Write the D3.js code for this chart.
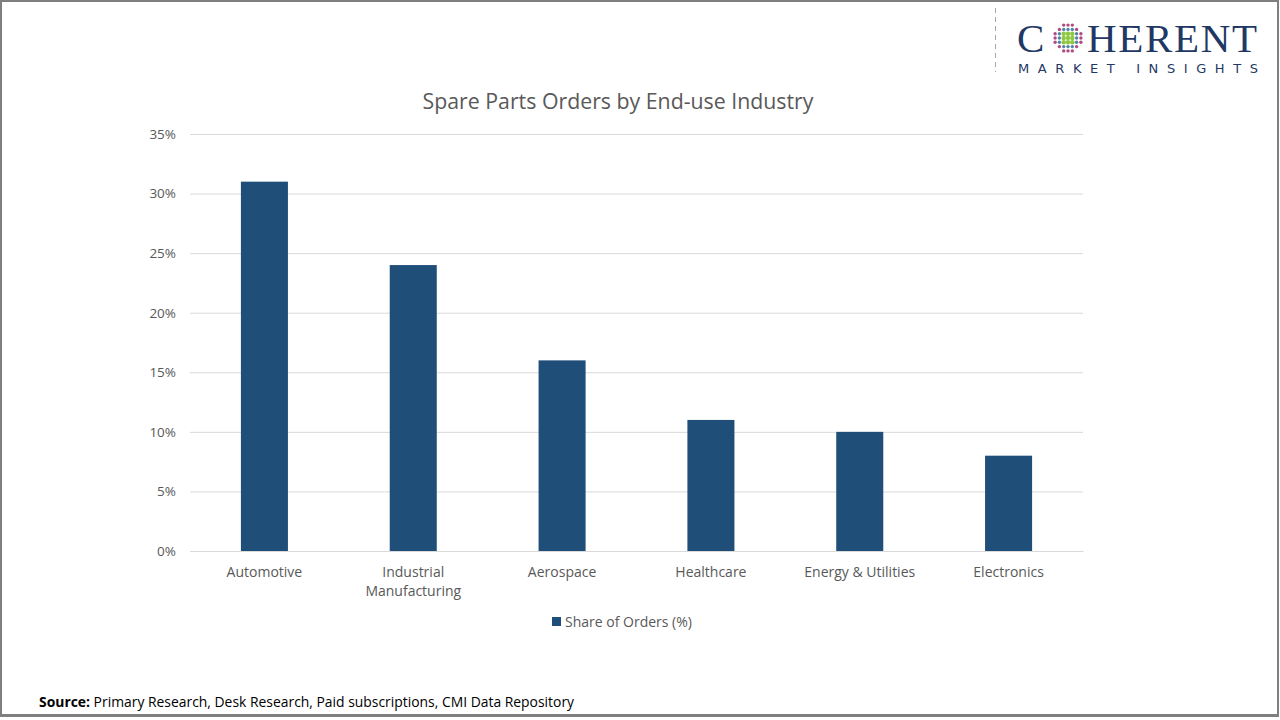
<!DOCTYPE html>
<html>
<head>
<meta charset="utf-8">
<script src="https://cdn.jsdelivr.net/npm/d3@7"></script>
<style>
  body { margin: 0; background: #fff; }
  svg { display: block; }
</style>
</head>
<body>
<div id="chart"></div>
<script>
var categories = [["Automotive"], ["Industrial", "Manufacturing"], ["Aerospace"], ["Healthcare"], ["Energy & Utilities"], ["Electronics"]];
var shares = [31, 24, 16, 11, 10, 8];
var yTicks = [0, 5, 10, 15, 20, 25, 30, 35];
var seriesName = "Share of Orders (%)";
var titleText = "Spare Parts Orders by End-use Industry";

var W = 1280, H = 720;
var margin = { top: 134, right: 197, bottom: 169, left: 190 };
var width = W - margin.left - margin.right,
    height = H - margin.top - margin.bottom;
var barColor = "#1f4e79";
var textColor = "#595959";
var font = "'Open Sans', sans-serif";

var svg = d3.select("#chart").append("svg")
    .attr("width", W)
    .attr("height", H);

// outer frame
svg.append("rect").attr("x", 1).attr("y", 1).attr("width", W - 3).attr("height", 715)
    .attr("fill", "#fff").attr("stroke", "#7f7f7f").attr("stroke-width", 2);
svg.append("line").attr("x1", 0).attr("x2", W - 2).attr("y1", 715.5).attr("y2", 715.5)
    .attr("stroke", "#7f7f7f").attr("stroke-width", 3);

var labelKeys = categories.map(function (d) { return d.join(" "); });

var xScale = d3.scaleBand()
    .domain(labelKeys)
    .range([0, width])
    .paddingInner(0.684)
    .paddingOuter(0.342);

var yScale = d3.scaleLinear()
    .domain([0, 35])
    .range([height, 0]);

var g = svg.append("g")
    .attr("transform", "translate(" + margin.left + "," + margin.top + ")");

// gridlines
var yAxis = d3.axisLeft(yScale)
    .tickValues(yTicks)
    .tickSize(-width)
    .tickPadding(14)
    .tickFormat(function (d) { return d + "%"; });

var yG = g.append("g").call(yAxis);
yG.select(".domain").remove();
yG.selectAll(".tick line").attr("stroke", "#d9d9d9").attr("stroke-width", 1);
yG.selectAll(".tick text")
    .attr("fill", textColor)
    .style("font-family", font)
    .style("font-size", "13.5px");

// bars
g.selectAll(".bar")
    .data(shares)
    .enter()
    .append("rect")
    .attr("class", "bar")
    .attr("x", function (d, i) { return xScale(labelKeys[i]); })
    .attr("y", function (d) { return yScale(d); })
    .attr("width", xScale.bandwidth())
    .attr("height", function (d) { return height - yScale(d); })
    .attr("fill", barColor);

// category labels
var xAxis = d3.axisBottom(xScale).tickSize(0).tickPadding(0).tickFormat("");
var xG = g.append("g").attr("transform", "translate(0," + height + ")").call(xAxis);
xG.select(".domain").attr("stroke", "#d9d9d9");
xG.selectAll(".tick").each(function (d, i) {
    var t = d3.select(this).append("text")
        .attr("text-anchor", "middle")
        .attr("fill", textColor)
        .style("font-family", font)
        .style("font-size", "14px");
    categories[i].forEach(function (line, j) {
        t.append("tspan").attr("x", 0).attr("y", 26 + j * 19).text(line);
    });
});

// title
svg.append("text")
    .attr("x", 618)
    .attr("y", 109)
    .attr("text-anchor", "middle")
    .attr("fill", textColor)
    .style("font-family", font)
    .style("font-size", "21.3px")
    .text(titleText);

// legend
var leg = svg.append("g").attr("transform", "translate(552,617)");
leg.append("rect").attr("width", 9).attr("height", 9).attr("fill", barColor);
leg.append("text").attr("x", 13).attr("y", 10)
    .attr("fill", textColor)
    .style("font-family", font)
    .style("font-size", "14px")
    .text(seriesName);

// source
var src = svg.append("text")
    .attr("x", 39).attr("y", 707)
    .attr("fill", "#000")
    .style("font-family", font)
    .style("font-size", "13.9px");
src.append("tspan").style("font-weight", "bold").text("Source:");
src.append("tspan").text(" Primary Research, Desk Research, Paid subscriptions, CMI Data Repository");

// logo
var logo = svg.append("g");
logo.append("line").attr("x1", 995.5).attr("x2", 995.5).attr("y1", 8).attr("y2", 72)
    .attr("stroke", "#a6a6a6").attr("stroke-dasharray", "5,4");
logo.append("text").attr("x", 1017).attr("y", 52)
    .attr("fill", "#1f3864")
    .style("font-family", "'Liberation Serif', serif")
    .style("font-size", "41px")
    .text("C");
logo.append("text").attr("x", 1087).attr("y", 52)
    .attr("fill", "#1f3864")
    .style("font-family", "'Liberation Serif', serif")
    .style("font-size", "41px")
    .attr("textLength", 170)
    .text("HERENT");
logo.append("text").attr("x", 1018).attr("y", 73)
    .attr("fill", "#1f3864")
    .style("font-family", "'DejaVu Sans', sans-serif")
    .style("font-size", "13px")
    .attr("textLength", 240)
    .text("MARKET INSIGHTS");
var globe = logo.append("g").attr("transform", "translate(1068,38)");
var dots = [];
for (var r = -3; r <= 3; r++) {
    for (var c = -3; c <= 3; c++) {
        var dd = Math.sqrt(r * r + c * c);
        if (dd <= 3.3) dots.push({ r: r, c: c, d: dd });
    }
}
globe.selectAll("circle").data(dots).enter().append("circle")
    .attr("cx", function (d) { return d.c * 4.3; })
    .attr("cy", function (d) { return d.r * 4.3; })
    .attr("r", function (d) { return d.d < 1.6 ? 2.2 : 1.7; })
    .attr("fill", function (d) {
        if (d.d < 1.6) return "#8dc63f";
        if (d.d < 2.6) return "#4f86a8";
        return "#b04a82";
    });
</script>
</body>
</html>
